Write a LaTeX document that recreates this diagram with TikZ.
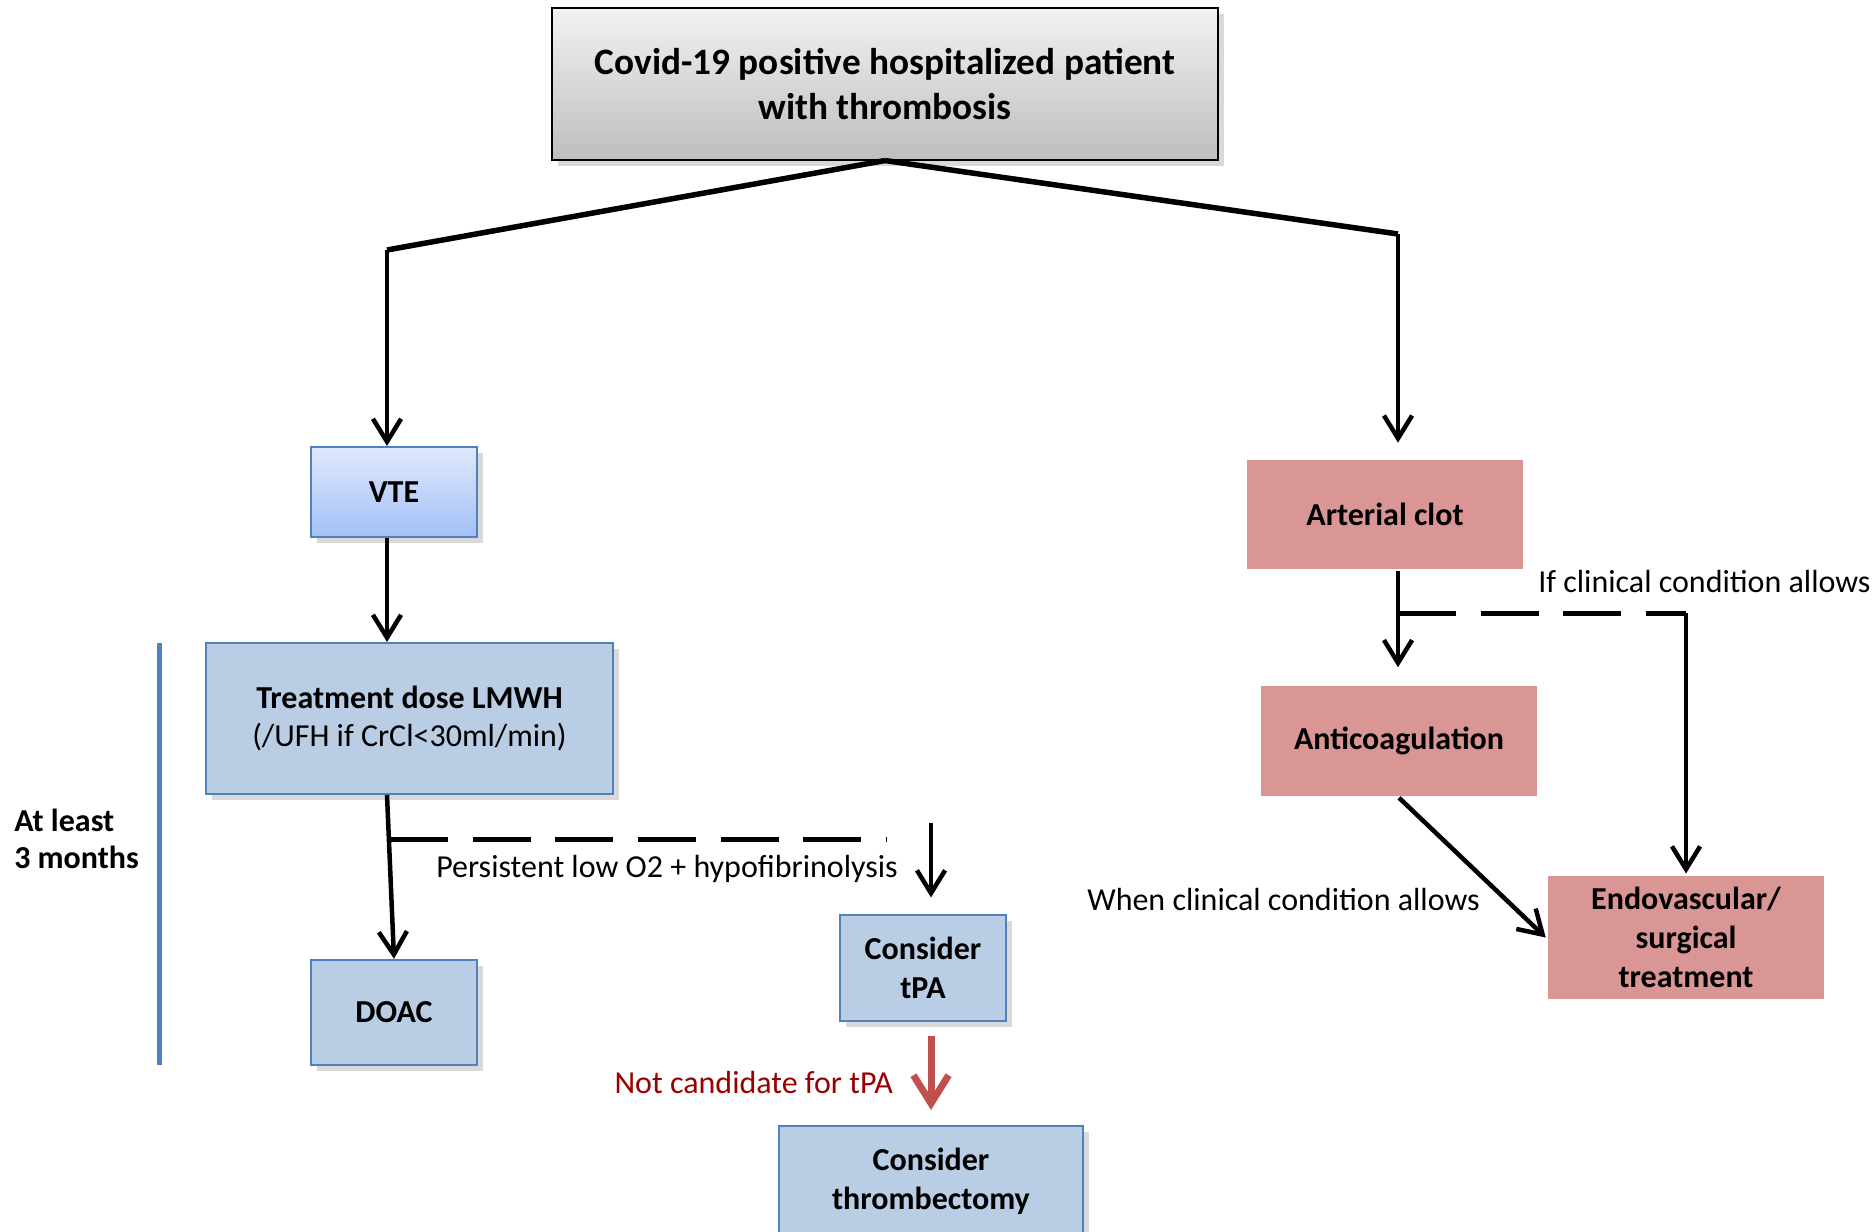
\documentclass[tikz,border=0pt]{standalone}
\usepackage{fontspec}
\setmainfont{Carlito}
\usepackage{tikz}
\usetikzlibrary{arrows,arrows.meta}
\usetikzlibrary{shadows}

\definecolor{boxblue}{RGB}{185,205,229}
\definecolor{lineblue}{RGB}{79,129,189}
\definecolor{boxred}{RGB}{217,150,148}
\definecolor{arrowred}{RGB}{192,80,77}
\definecolor{textred}{RGB}{153,0,0}

\begin{document}
\begin{tikzpicture}[x=0.01cm,y=-0.01cm,->,>={Straight Barb[length=6.5pt,width=8pt]},line width=0.45mm,
  every node/.style={font=\fontsize{9.1}{11}\selectfont},
  bold/.style={font=\fontsize{9.1}{11}\selectfont\bfseries},
  lbl/.style={inner sep=0pt},
  boxshadow/.style={drop shadow={shadow xshift=0.6mm,shadow yshift=-0.6mm,opacity=0.3}},
  topbox/.style={draw=black,line width=0.2mm,top color={rgb,255:red,242;green,242;blue,242},bottom color={rgb,255:red,190;green,190;blue,190},boxshadow,align=center,font=\fontsize{10.6}{12.6}\selectfont\bfseries,minimum width=6.66cm,minimum height=1.51cm},
  bluebox/.style={draw=lineblue,line width=0.2mm,fill=boxblue,boxshadow,align=center,bold},
  vtebox/.style={bluebox,top color={rgb,255:red,223;green,233;blue,253},bottom color={rgb,255:red,163;green,192;blue,246}},
  redbox/.style={fill=boxred,align=center,bold,minimum width=2.76cm,minimum height=1.09cm},
  dashline/.style={-,line width=0.5mm,dash pattern=on 16.5pt off 7pt},
  redarrow/.style={arrowred,line width=0.7mm,>={Straight Barb[length=8pt,width=10pt]}}]

\useasboundingbox (0,0) rectangle (1874,1231);

\node[topbox] (top) at (885,84) {Covid-19 positive hospitalized patient\\with thrombosis};
\node[vtebox,minimum width=1.66cm,minimum height=0.90cm] (vte) at (394,492) {VTE};
\node[bluebox,minimum width=4.07cm,minimum height=1.51cm] (dose) at (409.5,718.5) {Treatment dose LMWH\\{\mdseries (/UFH if CrCl<30ml/min)}};
\node[bluebox,minimum width=1.66cm,minimum height=1.05cm] (doac) [below of=vte,node distance=5.2cm] {DOAC};
\node[bluebox,minimum width=1.66cm,minimum height=1.05cm] (tpa) at (923,968) {Consider\\tPA};
\node[bluebox,minimum width=3.04cm,minimum height=1.1cm] (thr) at (931,1181) {Consider\\thrombectomy};
\node[redbox] (clot) at (1385,514.5) {Arterial clot};
\node[redbox] (ac) at (1399,741) {Anticoagulation};
\node[redbox] (endo) at (1686,937.5) {Endovascular/\\surgical\\treatment};

\node[bold,lbl,anchor=west,align=left,font=\fontsize{9.1}{10.4}\selectfont\bfseries] (months) at (12,839) {At least\\3 months};
\node (persist) at (667,869) {Persistent low O2 + hypofibrinolysis};
\node[lbl,anchor=east,text=textred] (notc) at (895,1082) {Not candidate for tPA};
\node[lbl,anchor=west] (allows) at (1536,582) {If clinical condition allows};
\node[lbl,anchor=west] (when) at (1085,899) {When clinical condition allows};

\coordinate (lc) at (387,250);
\coordinate (rc) at (1398,234);
\coordinate (pl) at (390,839);
\coordinate (pr) at (886,839);
\coordinate (ta) at (931,823);
\coordinate (br) at (1398,613);
\coordinate (bc) at (1686,613);

% time bar
\draw[-,lineblue,line width=0.5mm] (159,643) -- (159,1065);

\draw[-,line width=0.55mm] (top.south) -- (lc);
\draw[-,line width=0.55mm] (top.south) -- (rc);
\draw (lc) -- (lc |- vte.north);
\draw[shorten >=0.15cm] (rc) -- (rc |- clot.north);
\draw (vte.south -| lc) -- (lc |- dose.north);
\draw (dose.south -| lc) -- (doac.north);
\draw[dashline] (pl) -- (pr);
\draw[shorten >=0.17cm] (ta) -- (ta |- tpa.north);
\draw[redarrow,shorten <=0.14cm,shorten >=0.15cm] (tpa.south -| thr.north) -- (thr.north);
\draw[shorten >=0.17cm] (clot.south -| rc) -- (rc |- ac.north);
\draw[dashline] (br) -- (bc);
\draw (bc) -- (endo.north);
\draw (ac.south) -- (endo.west);
\end{tikzpicture}
\end{document}
